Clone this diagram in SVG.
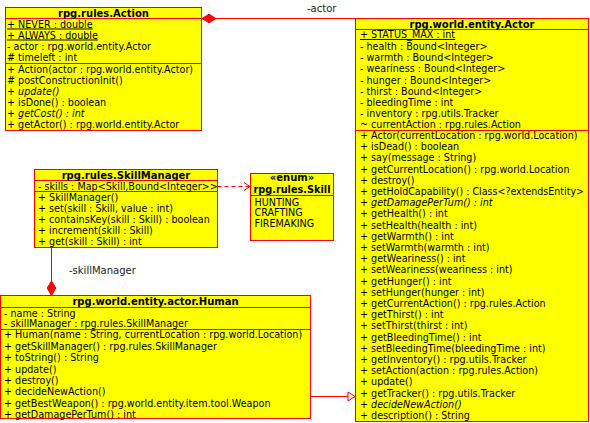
<svg xmlns="http://www.w3.org/2000/svg" width="590" height="423" viewBox="0 0 590 423">
  <style>
    .box { fill: #ffff00; stroke: #ff0000; stroke-width: 1; }
    .sep { stroke: #ff0000; stroke-width: 1; fill: none; }
    .edge { stroke: #ff0000; stroke-width: 1; fill: none; }
    text { font-family: "DejaVu Sans", "Liberation Sans", sans-serif; font-size: 9.6px; fill: #000; }
    .title { font-weight: bold; text-anchor: middle; font-size: 10px; }
    .it { font-style: italic; }
    .st { text-decoration: underline; }
    .lbl { fill: #222; font-size: 10px; }
  </style>
  <rect width="590" height="423" fill="#ffffff"/>

  <!-- associations, dependency and generalization -->
  <g id="connectors">
    <!-- composition: Action holds actor -->
    <line class="edge" x1="202" y1="18.5" x2="356" y2="18.5"/>
    <polygon points="202,18.5 209,14.2 216,18.5 209,22.8" fill="#ff0000" stroke="#ff0000"/>
    <text class="lbl" x="307" y="11.5">-actor</text>

    <!-- composition: Human holds skillManager -->
    <line class="edge" x1="51.5" y1="247.5" x2="51.5" y2="281"/>
    <polygon points="51.5,281 47.2,288 51.5,295.5 55.8,288" fill="#ff0000" stroke="#ff0000"/>
    <text class="lbl" x="69" y="273.5">-skillManager</text>

    <!-- dependency: SkillManager uses Skill -->
    <line class="edge" x1="217.5" y1="186.5" x2="249.5" y2="186.5" stroke-dasharray="4,3"/>
    <polyline class="edge" points="244,182.5 250,186.5 244,190.5"/>

    <!-- generalization: Human extends Actor -->
    <line class="edge" x1="310.5" y1="396.5" x2="348" y2="396.5"/>
    <polygon points="348,392 355,396.5 348,401" fill="#ffffff" stroke="#ff0000"/>
  </g>

  <!-- rpg.rules.Action -->
  <g id="action">
    <rect class="box" x="5.5" y="7.5" width="196" height="123"/>
    <line class="sep" x1="5.5" y1="18.5" x2="201.5" y2="18.5"/>
    <line class="sep" x1="5.5" y1="63.5" x2="201.5" y2="63.5"/>
    <text class="title" x="103.5" y="16.5">rpg.rules.Action</text>
    <text class="st" x="7" y="27.5">+ NEVER : double</text>
    <text class="st" x="7" y="38.5">+ ALWAYS : double</text>
    <text x="7" y="49.5">- actor : rpg.world.entity.Actor</text>
    <text x="7" y="61"># timeleft : int</text>
    <text x="7" y="72.5">+ Action(actor : rpg.world.entity.Actor)</text>
    <text x="7" y="83.5"># postConstructionInit()</text>
    <text class="it" x="7" y="94.5">+ update()</text>
    <text x="7" y="105.5">+ isDone() : boolean</text>
    <text class="it" x="7" y="117">+ getCost() : int</text>
    <text x="7" y="128">+ getActor() : rpg.world.entity.Actor</text>
  </g>

  <!-- rpg.world.entity.Actor -->
  <g id="actor">
    <rect class="box" x="355.5" y="18.5" width="233" height="403"/>
    <line class="sep" x1="355.5" y1="29.5" x2="588.5" y2="29.5"/>
    <line class="sep" x1="355.5" y1="130.5" x2="588.5" y2="130.5"/>
    <text class="title" x="472" y="27.5">rpg.world.entity.Actor</text>
    <text class="st" x="360" y="38">+ STATUS_MAX : int</text>
    <text x="360" y="49.5">- health : Bound&lt;Integer&gt;</text>
    <text x="360" y="61">- warmth : Bound&lt;Integer&gt;</text>
    <text x="360" y="72">- weariness : Bound&lt;Integer&gt;</text>
    <text x="360" y="83.5">- hunger : Bound&lt;Integer&gt;</text>
    <text x="360" y="94.5">- thirst : Bound&lt;Integer&gt;</text>
    <text x="360" y="106">- bleedingTime : int</text>
    <text x="360" y="117">- inventory : rpg.utils.Tracker</text>
    <text x="360" y="128">~ currentAction : rpg.rules.Action</text>
    <text x="360" y="139">+ Actor(currentLocation : rpg.world.Location)</text>
    <text x="360" y="150.2">+ isDead() : boolean</text>
    <text x="360" y="161.4">+ say(message : String)</text>
    <text x="360" y="172.6">+ getCurrentLocation() : rpg.world.Location</text>
    <text x="360" y="183.8">+ destroy()</text>
    <text x="360" y="195" textLength="224" lengthAdjust="spacingAndGlyphs">+ getHoldCapability() : Class&lt;?extendsEntity&gt;</text>
    <text class="it" x="360" y="206.2">+ getDamagePerTum() : int</text>
    <text x="360" y="217.4">+ getHealth() : int</text>
    <text x="360" y="228.6">+ setHealth(health : int)</text>
    <text x="360" y="239.8">+ getWarmth() : int</text>
    <text x="360" y="251">+ setWarmth(warmth : int)</text>
    <text x="360" y="262.2">+ getWeariness() : int</text>
    <text x="360" y="273.4">+ setWeariness(weariness : int)</text>
    <text x="360" y="284.6">+ getHunger() : int</text>
    <text x="360" y="295.8">+ setHunger(hunger : int)</text>
    <text x="360" y="307">+ getCurrentAction() : rpg.rules.Action</text>
    <text x="360" y="318.2">+ getThirst() : int</text>
    <text x="360" y="329.4">+ setThirst(thirst : int)</text>
    <text x="360" y="340.6">+ getBleedingTime() : int</text>
    <text x="360" y="351.8">+ setBleedingTime(bleedingTime : int)</text>
    <text x="360" y="363">+ getInventory() : rpg.utils.Tracker</text>
    <text x="360" y="374.2">+ setAction(action : rpg.rules.Action)</text>
    <text x="360" y="385.4">+ update()</text>
    <text x="360" y="396.6">+ getTracker() : rpg.utils.Tracker</text>
    <text class="it" x="360" y="407.8">+ decideNewAction()</text>
    <text x="360" y="419">+ description() : String</text>
  </g>

  <!-- rpg.rules.SkillManager -->
  <g id="skillmanager">
    <rect class="box" x="34.5" y="169.5" width="183" height="78"/>
    <line class="sep" x1="34.5" y1="180.5" x2="217.5" y2="180.5"/>
    <line class="sep" x1="34.5" y1="191.5" x2="217.5" y2="191.5"/>
    <text class="title" x="126" y="178.5">rpg.rules.SkillManager</text>
    <text x="38" y="189.5">- skills : Map&lt;Skill,Bound&lt;Integer&gt;&gt;</text>
    <text x="38" y="200.5">+ SkillManager()</text>
    <text x="38" y="211.5">+ set(skill : Skill, value : int)</text>
    <text x="38" y="222.5">+ containsKey(skill : Skill) : boolean</text>
    <text x="38" y="233.5">+ increment(skill : Skill)</text>
    <text x="38" y="244.5">+ get(skill : Skill) : int</text>
  </g>

  <!-- rpg.rules.Skill (enum) -->
  <g id="skill">
    <rect class="box" x="250.5" y="173.5" width="83" height="67"/>
    <line class="sep" x1="250.5" y1="195.5" x2="333.5" y2="195.5"/>
    <text class="title" x="292" y="181">«enum»</text>
    <text class="title" x="292" y="193" textLength="77" lengthAdjust="spacingAndGlyphs">rpg.rules.Skill</text>
    <text x="254.5" y="205.5">HUNTING</text>
    <text x="254.5" y="216">CRAFTING</text>
    <text x="254.5" y="227">FIREMAKING</text>
  </g>

  <!-- rpg.world.entity.actor.Human -->
  <g id="human">
    <rect class="box" x="0.5" y="295.5" width="310" height="123"/>
    <line class="sep" x1="0.5" y1="307.5" x2="310.5" y2="307.5"/>
    <line class="sep" x1="0.5" y1="329.5" x2="310.5" y2="329.5"/>
    <text class="title" x="155.5" y="305">rpg.world.entity.actor.Human</text>
    <text x="4" y="316.5">- name : String</text>
    <text x="4" y="327">- skillManager : rpg.rules.SkillManager</text>
    <text x="4" y="338">+ Human(name : String, currentLocation : rpg.world.Location)</text>
    <text x="4" y="349.5">+ getSkillManager() : rpg.rules.SkillManager</text>
    <text x="4" y="361">+ toString() : String</text>
    <text x="4" y="372.5">+ update()</text>
    <text x="4" y="383.5">+ destroy()</text>
    <text x="4" y="394.5">+ decideNewAction()</text>
    <text x="4" y="406.5">+ getBestWeapon() : rpg.world.entity.item.tool.Weapon</text>
    <text x="4" y="417.5">+ getDamagePerTum() : int</text>
  </g>
</svg>
